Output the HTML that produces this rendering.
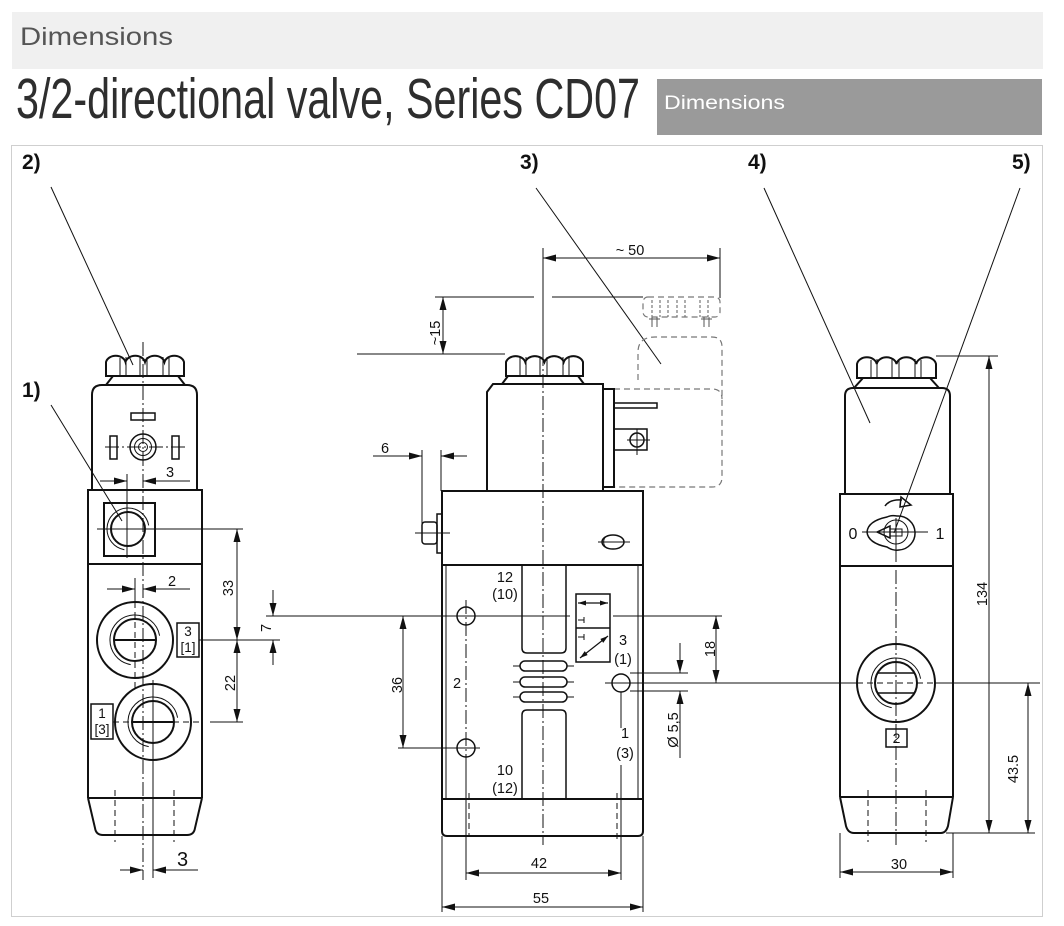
<!DOCTYPE html>
<html><head><meta charset="utf-8"><style>
html,body{margin:0;padding:0;background:#fff}
svg{display:block}
.k{fill:none;stroke:#111;stroke-width:2}
.m{fill:none;stroke:#111;stroke-width:1.5}
.n{fill:none;stroke:#111;stroke-width:1}
.c{fill:none;stroke:#111;stroke-width:1;stroke-dasharray:14 3 2 3}
.dd{fill:none;stroke:#111;stroke-width:1;stroke-dasharray:6 4}
.h{fill:none;stroke:#777;stroke-width:1.2;stroke-dasharray:6 4}
.dm{fill:none;stroke:#111;stroke-width:1;marker-start:url(#a);marker-end:url(#a)}
.de{fill:none;stroke:#111;stroke-width:1;marker-end:url(#a)}
.ds{fill:none;stroke:#111;stroke-width:1.2;marker-start:url(#s);marker-end:url(#s)}
text{font-family:"Liberation Sans",Arial,sans-serif;fill:#111}
.t{font-size:14.5px}
.b{font-size:21px;font-weight:bold}
</style></head><body>
<svg width="1064" height="926" viewBox="0 0 1064 926" xmlns="http://www.w3.org/2000/svg">
<defs>
<marker id="a" viewBox="0 0 13 7" refX="13" refY="3.5" markerWidth="13" markerHeight="7" markerUnits="userSpaceOnUse" orient="auto-start-reverse"><path d="M0,0L13,3.5L0,7z" fill="#111"/></marker>
<marker id="s" viewBox="0 0 8 5" refX="8" refY="2.5" markerWidth="8" markerHeight="5" markerUnits="userSpaceOnUse" orient="auto-start-reverse"><path d="M0,0L8,2.5L0,5z" fill="#111"/></marker>
</defs>

<!-- header -->
<rect x="12" y="12" width="1031" height="57" fill="#f0f0f0"/>
<text x="20" y="45" font-size="25" textLength="153" lengthAdjust="spacingAndGlyphs" style="fill:#555">Dimensions</text>
<text x="16" y="118" font-size="57" textLength="624" lengthAdjust="spacingAndGlyphs" style="fill:#2e2e2e">3/2-directional valve, Series CD07</text>
<rect x="657" y="79" width="385" height="56" fill="#9a9a9a"/>
<text x="664" y="109" font-size="19.5" textLength="121" lengthAdjust="spacingAndGlyphs" style="fill:#fff">Dimensions</text>

<!-- frame -->
<rect x="11.5" y="145.5" width="1031" height="771" fill="#fff" stroke="#cfcfcf" stroke-width="1"/>

<!-- labels -->
<text class="b" x="22" y="169">2)</text>
<text class="b" x="520" y="169">3)</text>
<text class="b" x="748" y="169">4)</text>
<text class="b" x="1012" y="169">5)</text>
<text class="b" x="22" y="397">1)</text>

<!-- leaders -->
<path class="n" d="M51,187L133,365"/>
<path class="n" d="M51,405L122,521"/>
<path class="n" d="M536,188L661,364"/>
<path class="n" d="M764,188L870,423"/>
<path class="n" d="M1020,188L894,533"/>

<!-- ================= LEFT VIEW ================= -->
<path class="c" d="M143,342V880"/>
<path class="k" d="M106,376V362A10,8 0 0 1 125.5,362A10,8 0 0 1 145,362A10,8 0 0 1 164.5,362A10,8 0 0 1 184,362V376Z"/>
<path class="n" d="M120,358V376M126,357V376M140,357V376M147,357V376M163,357V376M169,358V376"/>
<path class="k" d="M113,376L106,385M178,376L185,385"/>
<path class="k" d="M92,490V395Q92,385 102,385H187Q197,385 197,395V490"/>
<rect class="m" x="131" y="413" width="24" height="7"/>
<rect class="m" x="110" y="436" width="7" height="23"/>
<rect class="m" x="172" y="436" width="7" height="23"/>
<circle class="m" cx="143" cy="447" r="13"/>
<circle class="n" cx="143" cy="447" r="8.5"/>
<circle class="n" cx="143" cy="447" r="4.5"/>
<path class="c" d="M105,447H185"/>
<!-- dim 3 top -->
<path class="n" d="M127,474V558"/>
<path class="de" d="M100,481H127"/>
<path class="de" d="M190,481H143"/>
<text class="t" x="166" y="477">3</text>
<!-- upper block -->
<rect class="k" x="88" y="490" width="114" height="74"/>
<rect class="k" x="104" y="503" width="51" height="53"/>
<circle class="k" cx="128" cy="529" r="17"/>
<path class="n" d="M124.4,549.7A21,21 0 1 1 148.7,525.4"/>
<path class="n" d="M97,529H243"/>
<!-- lower body -->
<path class="k" d="M88,564V798M202,564V798M88,798H202"/>
<path class="k" d="M88,798L95,828Q96,835 103,835H187Q194,835 195,828L202,798"/>
<path class="dd" d="M115,790V842M174,790V842"/>
<!-- dim 2 -->
<path class="n" d="M135,578V602"/>
<path class="de" d="M107,589H135"/>
<path class="de" d="M190,589H143"/>
<text class="t" x="168" y="586">2</text>
<!-- port 3 -->
<circle class="k" cx="135" cy="640" r="38"/>
<circle class="k" cx="135" cy="640" r="21"/>
<path class="n" d="M130.7,664.6A25,25 0 1 1 159.6,635.7"/>
<path class="k" d="M114,640H156"/>
<path class="dd" d="M135,602V690"/>
<rect class="m" x="177" y="623" width="22" height="34"/>
<text x="188" y="636" font-size="13.5" text-anchor="middle">3</text>
<text x="188" y="652" font-size="13.5" text-anchor="middle">[1]</text>
<path class="n" d="M199,640H280"/>
<!-- port 1 -->
<circle class="k" cx="153" cy="722" r="38"/>
<circle class="k" cx="153" cy="722" r="21"/>
<path class="n" d="M148.7,746.6A25,25 0 1 1 177.6,717.7"/>
<path class="k" d="M132,722H174"/>
<path class="n" d="M153,680V878"/>
<rect class="m" x="91" y="704" width="22" height="35"/>
<text x="102" y="718" font-size="13.5" text-anchor="middle">1</text>
<text x="102" y="734" font-size="13.5" text-anchor="middle">[3]</text>
<path class="dd" d="M113,722H200"/>
<path class="n" d="M210,722H243"/>
<!-- dim 3 bottom -->
<path class="de" d="M120,870H143"/>
<path class="de" d="M198,870H153"/>
<text x="177" y="866" font-size="20">3</text>
<!-- dim 33 / 22 -->
<path class="dm" d="M237,529V640"/>
<path class="dm" d="M237,640V722"/>
<text class="t" text-anchor="middle" transform="translate(233,588) rotate(-90)">33</text>
<text class="t" text-anchor="middle" transform="translate(235,683) rotate(-90)">22</text>
<!-- dim 7 -->
<path class="de" d="M273,590V616"/>
<path class="de" d="M273,665V640"/>
<text class="t" text-anchor="middle" transform="translate(271,628) rotate(-90)">7</text>
<path class="n" d="M266,616H570M613,616H722"/>

<!-- ================= MIDDLE VIEW ================= -->
<!-- dim ~50 -->
<path class="n" d="M543,248V352M720,248V298"/>
<path class="dm" d="M543,258H720"/>
<text class="t" x="630" y="255" text-anchor="middle">~ 50</text>
<!-- dim ~15 -->
<path class="n" d="M435,297H534M552,297H643M357,354H505"/>
<path class="dm" d="M443,297V354"/>
<text class="t" text-anchor="middle" transform="translate(440,333) rotate(-90)">~15</text>
<!-- dashed connector -->
<rect class="h" x="643" y="297" width="77" height="20" rx="5"/>
<path class="h" style="stroke-dasharray:3 2" d="M652,300V317M660,300V317M668,300V317M677,300V317M685,300V317M700,300V317M708,300V317"/>
<path style="fill:none;stroke:#555;stroke-width:1" d="M652,317V327M657,317V327M649,319H660M704,317V327M709,317V327M701,319H712"/>
<path class="h" d="M638,380V352Q638,337 655,337H712Q722,337 722,347V477Q722,487 712,487H614"/>
<path class="h" d="M614,389H712Q722,389 722,399"/>
<!-- nut -->
<path class="k" d="M506,376V362A10,8 0 0 1 525.25,362A10,8 0 0 1 544.5,362A10,8 0 0 1 563.75,362A10,8 0 0 1 583,362V376Z"/>
<path class="n" d="M520,358V376M526,357V376M540,357V376M547,357V376M563,357V376M569,358V376"/>
<path class="k" d="M508,376L502,384M578,376L584,384"/>
<!-- coil -->
<path class="k" d="M487,491V392L493,384H603V491"/>
<rect class="k" x="603" y="389" width="11" height="98"/>
<rect class="m" x="614" y="403" width="43" height="5"/>
<rect class="m" x="614" y="429" width="33" height="21"/>
<circle class="m" cx="637" cy="440" r="7"/>
<path class="n" d="M637,429V455M627,440H650"/>
<!-- dim 6 -->
<path class="n" d="M422,450V525M441,450V491"/>
<path class="de" d="M373,456H422"/>
<path class="de" d="M467,456H441"/>
<text class="t" x="385" y="453" text-anchor="middle">6</text>
<!-- upper block -->
<rect class="k" x="442" y="491" width="201" height="74"/>
<rect class="m" x="437" y="514" width="5" height="39"/>
<rect class="m" x="422" y="522" width="15" height="22" rx="3"/>
<path class="n" d="M415,533H450"/>
<ellipse class="m" cx="613" cy="542" rx="11" ry="7"/>
<path class="n" d="M608,535.5A7,7 0 0 0 608,548.5M598,542H630"/>
<!-- centerline -->
<path class="c" d="M543,352V845"/>
<!-- lower body -->
<path class="k" d="M442,565V799M643,565V799M442,799H643"/>
<path class="n" d="M446,565V799M638,565V799"/>
<path class="k" d="M442,799V831Q442,836 447,836H638Q643,836 643,831V799"/>
<path class="m" d="M522,565V648Q522,653 527,653H561Q566,653 566,648V565"/>
<path class="m" d="M522,799V715Q522,710 527,710H561Q566,710 566,715V799"/>
<rect class="m" x="520" y="661" width="47" height="10" rx="5"/>
<rect class="m" x="520" y="677" width="47" height="10" rx="5"/>
<rect class="m" x="520" y="692" width="47" height="10" rx="5"/>
<path class="n" d="M513,666H520M567,666H574M513,682H520M567,682H574M513,697H520M567,697H574"/>
<!-- holes -->
<circle class="m" cx="466" cy="616" r="9"/>
<circle class="m" cx="466" cy="748" r="9"/>
<circle class="m" cx="621" cy="683" r="9"/>
<path class="c" d="M466,600V757"/>
<path class="n" d="M466,757V880M621,692V728M621,765V880"/>
<path class="n" d="M605,683H640"/>
<path class="dd" d="M469,793V837M617,793V840"/>
<!-- port texts -->
<text class="t" x="505" y="582" text-anchor="middle">12</text>
<text class="t" x="505" y="599" text-anchor="middle">(10)</text>
<text class="t" x="505" y="775" text-anchor="middle">10</text>
<text class="t" x="505" y="793" text-anchor="middle">(12)</text>
<text class="t" x="457" y="688" text-anchor="middle">2</text>
<text class="t" x="623" y="645" text-anchor="middle">3</text>
<text class="t" x="623" y="664" text-anchor="middle">(1)</text>
<text class="t" x="625" y="738" text-anchor="middle">1</text>
<text class="t" x="625" y="758" text-anchor="middle">(3)</text>
<!-- symbol -->
<rect class="m" x="576" y="594" width="34" height="68" fill="#fff"/>
<path class="m" d="M576,628H610"/>
<path class="ds" d="M578,603H608"/>
<path class="ds" d="M580,658L608,636"/>
<path class="n" d="M578,620H584M584,617V623M578,637H584M584,634V640"/>
<!-- dim 36 -->
<path class="dm" d="M403,616V748"/>
<path class="n" d="M398,748H480"/>
<text class="t" text-anchor="middle" transform="translate(402,685) rotate(-90)">36</text>
<!-- dim 18 -->
<path class="dm" d="M716,616V683"/>
<text class="t" text-anchor="middle" transform="translate(715,649) rotate(-90)">18</text>
<path class="n" d="M640,683H857M936,683H1040"/>
<path class="dd" d="M857,683H936"/>
<!-- dim dia 5,5 -->
<path class="n" d="M630,673H688M630,691H688"/>
<path class="de" d="M680,643V673"/>
<path class="de" d="M680,758V691"/>
<text class="t" text-anchor="middle" transform="translate(678,730) rotate(-90)">Ø 5,5</text>
<!-- dim 42 / 55 -->
<path class="dm" d="M466,873H621"/>
<text class="t" x="539" y="868" text-anchor="middle">42</text>
<path class="n" d="M442,836V912M643,836V912"/>
<path class="dm" d="M442,907H643"/>
<text class="t" x="541" y="903" text-anchor="middle">55</text>

<!-- ================= RIGHT VIEW ================= -->
<path class="k" d="M857,378V364A10,8 0 0 1 876.75,364A10,8 0 0 1 896.5,364A10,8 0 0 1 916.25,364A10,8 0 0 1 936,364V378Z"/>
<path class="n" d="M871,360V378M877,359V378M892,359V378M899,359V378M915,359V378M921,360V378"/>
<path class="k" d="M863,378L854,388M930,378L939,388"/>
<path class="k" d="M845,494V396Q845,388 853,388H942Q950,388 950,396V494"/>
<rect class="k" x="840" y="494" width="113" height="72"/>
<!-- switch -->
<path class="m" d="M887,517Q868,521 867,532Q868,543 887,547Q893,551 899,550A17,17 0 0 0 897,516Q891,515 887,517Z"/>
<circle class="n" cx="896" cy="532" r="12"/>
<path class="m" d="M877,532L890,526V538Z"/>
<rect class="n" x="890" y="529" width="12" height="7"/>
<path class="n" d="M862,532H928M896,518V548"/>
<path class="m" d="M885,506Q890,499 902,500"/>
<path class="m" d="M901,497L911,505L900,507Z"/>
<text x="853" y="539" font-size="16" text-anchor="middle">0</text>
<text x="940" y="539" font-size="16" text-anchor="middle">1</text>
<!-- lower body -->
<path class="k" d="M840,566V797M953,566V797M840,797H953"/>
<path class="k" d="M840,797L846,826Q848,833 854,833H941Q946,833 948,826L953,797"/>
<path class="c" d="M896,548V845"/>
<path class="dd" d="M868,790V842M926,790V842"/>
<!-- port 2 -->
<circle class="k" cx="896" cy="683" r="39"/>
<circle class="k" cx="896" cy="683" r="21"/>
<path class="n" d="M891.7,707.6A25,25 0 1 1 920.6,678.7"/>
<path class="m" d="M878,673H914M878,693H914"/>
<rect class="m" x="886" y="729" width="21" height="18" fill="#fff"/>
<text x="896.5" y="743" font-size="14" text-anchor="middle">2</text>
<!-- dim 134 -->
<path class="n" d="M936,356H998M946,833H1035"/>
<path class="dm" d="M989,356V833"/>
<text class="t" text-anchor="middle" transform="translate(987,594) rotate(-90)">134</text>
<!-- dim 43.5 -->
<path class="dm" d="M1028,683V833"/>
<text class="t" text-anchor="middle" transform="translate(1018,769) rotate(-90)">43.5</text>
<!-- dim 30 -->
<path class="n" d="M840,833V878M953,833V878"/>
<path class="dm" d="M840,872H953"/>
<text class="t" x="899" y="869" text-anchor="middle">30</text>
</svg>
</body></html>
